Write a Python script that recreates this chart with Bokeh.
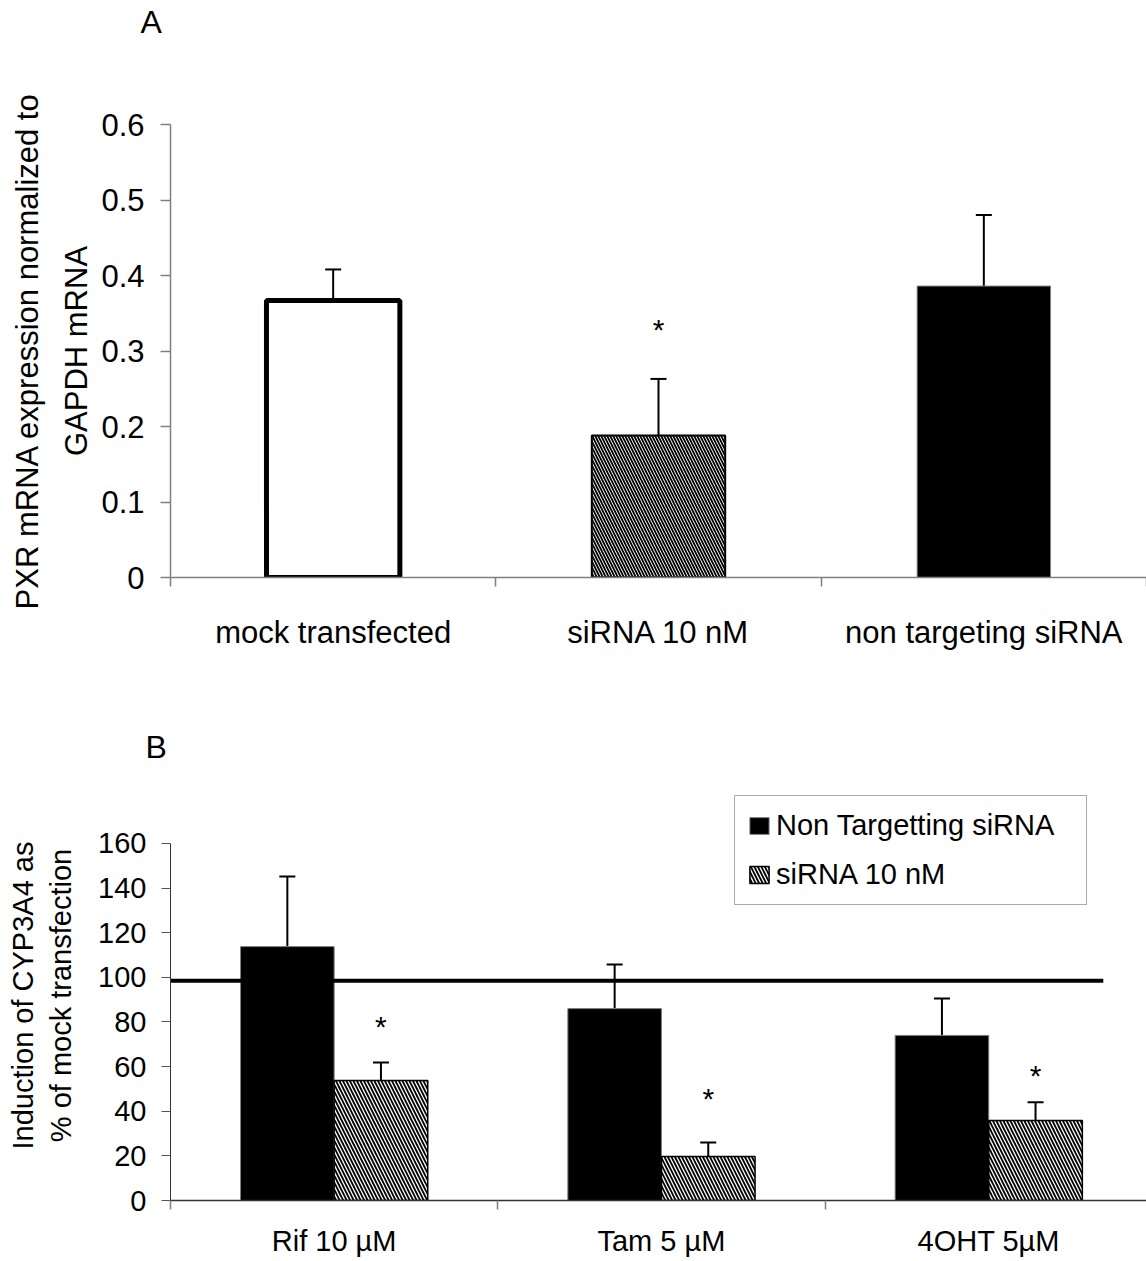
from bokeh.plotting import figure
from bokeh.models import (ColumnDataSource, Range1d, FixedTicker, Whisker, TeeHead,
                          Title, Legend, LegendItem)
from bokeh.layouts import column
from bokeh.embed import file_html
from bokeh.resources import INLINE
from bokeh.core.properties import value

# ---------------- Panel A data ----------------
a_categories = ["mock transfected", "siRNA 10 nM", "non targeting siRNA"]
a_values = [0.367, 0.188, 0.386]
a_errors = [0.041, 0.075, 0.094]
a_star_category = ["siRNA 10 nM"]
a_star_y = [0.332]
a_yticks = [0, 0.1, 0.2, 0.3, 0.4, 0.5, 0.6]

# ---------------- Panel B data ----------------
b_categories = ["Rif 10 µM", "Tam 5 µM", "4OHT 5µM"]
b_series = ["Non Targetting siRNA", "siRNA 10 nM"]
b_nontarget = [113.8, 86.0, 74.0]
b_nontarget_err = [31.4, 19.8, 16.5]
b_sirna = [53.8, 19.7, 35.9]
b_sirna_err = [8.1, 6.3, 8.1]
b_star_y = [79.3, 47.1, 57.4]
b_reference = 98.5
b_yticks = [0, 20, 40, 60, 80, 100, 120, 140, 160]

FONT = "Liberation Sans"

# ---------------- styles ----------------
a_fill = ["white", "white", "black"]
a_hatch = [" ", "\\", " "]
a_line_w = [5, 2, 1]
a_line_c = ["black", "black", "#808080"]


def style_axes(p, color):
    for ax in (p.xaxis, p.yaxis):
        ax.axis_line_color = color
        ax.axis_line_width = 1.5
        ax.major_label_text_font = FONT
        ax.major_label_text_color = "black"
        ax.axis_label_text_font = FONT
        ax.axis_label_text_font_style = "normal"
        ax.axis_label_text_color = "black"
    p.grid.visible = False
    p.outline_line_color = None
    p.background_fill_color = "white"
    p.border_fill_color = "white"


# ================= Panel A =================
pa = figure(width=1146, height=652, x_range=Range1d(0, 3.0), y_range=Range1d(0, 0.6),
            output_backend="svg", toolbar_location=None,
            min_border_left=170, min_border_right=0, min_border_top=124, min_border_bottom=74)
style_axes(pa, "#808080")
pa.title = Title(text="A", align="left", offset=-30, standoff=0, text_font=FONT,
                 text_font_size="32px", text_font_style="normal", text_color="black")
pa.add_layout(Title(text=" ", standoff=82, text_font_size="1px"), "above")

xa = [i + 0.5 for i in range(len(a_categories))]
src_a = ColumnDataSource(dict(
    x=xa, top=a_values, upper=[v + e for v, e in zip(a_values, a_errors)],
    fill=a_fill, hatch=a_hatch, lw=a_line_w, lc=a_line_c))
pa.vbar(x="x", top="top", bottom=0, width=0.41, source=src_a,
        fill_color="fill", line_color="lc", line_width="lw",
        hatch_pattern="hatch", hatch_color="black", hatch_scale=6, hatch_weight=1.8)
pa.add_layout(Whisker(base="x", lower="top", upper="upper", source=src_a,
                      line_color="black", line_width=2,
                      upper_head=TeeHead(size=16, line_width=2, line_color="black"),
                      lower_head=None))
star_a = ColumnDataSource(dict(x=[xa[a_categories.index(c)] for c in a_star_category],
                               y=a_star_y, t=["*"] * len(a_star_y)))
pa.text(x="x", y="y", text="t", source=star_a, text_align="center", text_baseline="middle",
        y_offset=3, text_font=value(FONT), text_font_size="30px", text_color="black")

pa.xaxis.ticker = FixedTicker(ticks=xa, minor_ticks=list(range(len(a_categories) + 1)))
pa.xaxis.major_label_overrides = {x: c for x, c in zip(xa, a_categories)}
pa.xaxis.major_tick_line_color = None
pa.xaxis.major_tick_out = 0
pa.xaxis.major_tick_in = 0
pa.xaxis.minor_tick_out = 9
pa.xaxis.minor_tick_in = 0
pa.xaxis.minor_tick_line_color = "#808080"
pa.xaxis.minor_tick_line_width = 1.5
pa.xaxis.major_label_standoff = 28
pa.xaxis.major_label_text_font_size = "31px"

pa.yaxis.ticker = FixedTicker(ticks=a_yticks)
pa.yaxis.major_label_overrides = {t: f"{t:g}" for t in a_yticks}
pa.yaxis.major_tick_out = 10
pa.yaxis.major_tick_in = 0
pa.yaxis.major_tick_line_color = "#808080"
pa.yaxis.major_tick_line_width = 1.5
pa.yaxis.minor_tick_line_color = None
pa.yaxis.major_label_standoff = 16
pa.yaxis.major_label_text_font_size = "31px"
pa.yaxis.axis_label = "PXR mRNA expression normalized to\nGAPDH mRNA"
pa.yaxis.axis_label_text_font_size = "31px"
pa.yaxis.axis_label_text_line_height = 1.4
pa.yaxis.axis_label_standoff = 4

# ================= Panel B =================
pb = figure(width=1146, height=608, x_range=Range1d(0, 2.982), y_range=Range1d(0, 183.75),
            output_backend="svg", toolbar_location=None,
            min_border_left=165, min_border_right=0, min_border_top=138, min_border_bottom=60)
style_axes(pb, "#333333")
pb.title = Title(text="B", align="left", offset=-25, standoff=52, text_font=FONT,
                 text_font_size="32px", text_font_style="normal", text_color="black")

bw = 0.286
xb = [i + 0.5 for i in range(len(b_categories))]
src_nt = ColumnDataSource(dict(
    x=[x - bw / 2 for x in xb], top=b_nontarget,
    upper=[v + e for v, e in zip(b_nontarget, b_nontarget_err)]))
src_si = ColumnDataSource(dict(
    x=[x + bw / 2 for x in xb], top=b_sirna,
    upper=[v + e for v, e in zip(b_sirna, b_sirna_err)]))

r_nt = pb.vbar(x="x", top="top", bottom=0, width=bw, source=src_nt,
               fill_color="black", line_color="#808080", line_width=1)
r_si = pb.vbar(x="x", top="top", bottom=0, width=bw, source=src_si,
               fill_color="white", line_color="black", line_width=1.5,
               hatch_pattern="\\", hatch_color="black", hatch_scale=7, hatch_weight=1.8)
for src in (src_nt, src_si):
    pb.add_layout(Whisker(base="x", lower="top", upper="upper", source=src,
                          line_color="black", line_width=2,
                          upper_head=TeeHead(size=16, line_width=2, line_color="black"),
                          lower_head=None))

pb.segment(x0=[0], x1=[2.85], y0=[b_reference], y1=[b_reference], line_color="black", line_width=4)

star_b = ColumnDataSource(dict(x=[x + bw / 2 for x in xb], y=b_star_y, t=["*"] * len(b_star_y)))
pb.text(x="x", y="y", text="t", source=star_b, text_align="center", text_baseline="middle",
        y_offset=3, text_font=value(FONT), text_font_size="30px", text_color="black")

pb.xaxis.ticker = FixedTicker(ticks=xb, minor_ticks=list(range(len(b_categories) + 1)))
pb.xaxis.major_label_overrides = {x: c for x, c in zip(xb, b_categories)}
pb.xaxis.major_tick_line_color = None
pb.xaxis.major_tick_out = 0
pb.xaxis.major_tick_in = 0
pb.xaxis.minor_tick_out = 9
pb.xaxis.minor_tick_in = 0
pb.xaxis.minor_tick_line_color = "#808080"
pb.xaxis.minor_tick_line_width = 1.5
pb.xaxis.major_label_standoff = 15
pb.xaxis.major_label_text_font_size = "29px"

pb.yaxis.ticker = FixedTicker(ticks=b_yticks)
pb.yaxis.bounds = (b_yticks[0], b_yticks[-1])
pb.yaxis.axis_line_width = 1
pb.yaxis.major_tick_out = 9
pb.yaxis.major_tick_in = 0
pb.yaxis.major_tick_line_color = "#555555"
pb.yaxis.minor_tick_line_color = None
pb.yaxis.major_label_standoff = 15
pb.yaxis.major_label_text_font_size = "29px"
pb.yaxis.axis_label = "Induction of CYP3A4 as\n% of mock transfection"
pb.yaxis.axis_label_text_font_size = "29px"
pb.yaxis.axis_label_standoff = 18

legend = Legend(items=[LegendItem(label=b_series[0], renderers=[r_nt]),
                       LegendItem(label=b_series[1], renderers=[r_si])],
                location=(564, 295), orientation="vertical",
                padding=12, spacing=14, margin=0,
                glyph_width=24, glyph_height=21, label_standoff=5,
                label_width=298, label_height=35,
                label_text_font=FONT, label_text_font_size="29px",
                label_text_color="black", label_text_baseline="middle",
                border_line_color="#555555", border_line_width=1.5,
                background_fill_color="white", background_fill_alpha=1)
pb.add_layout(legend, "center")

layout = column(pa, pb, spacing=0)
open("out.html", "w").write(file_html(layout, INLINE))
